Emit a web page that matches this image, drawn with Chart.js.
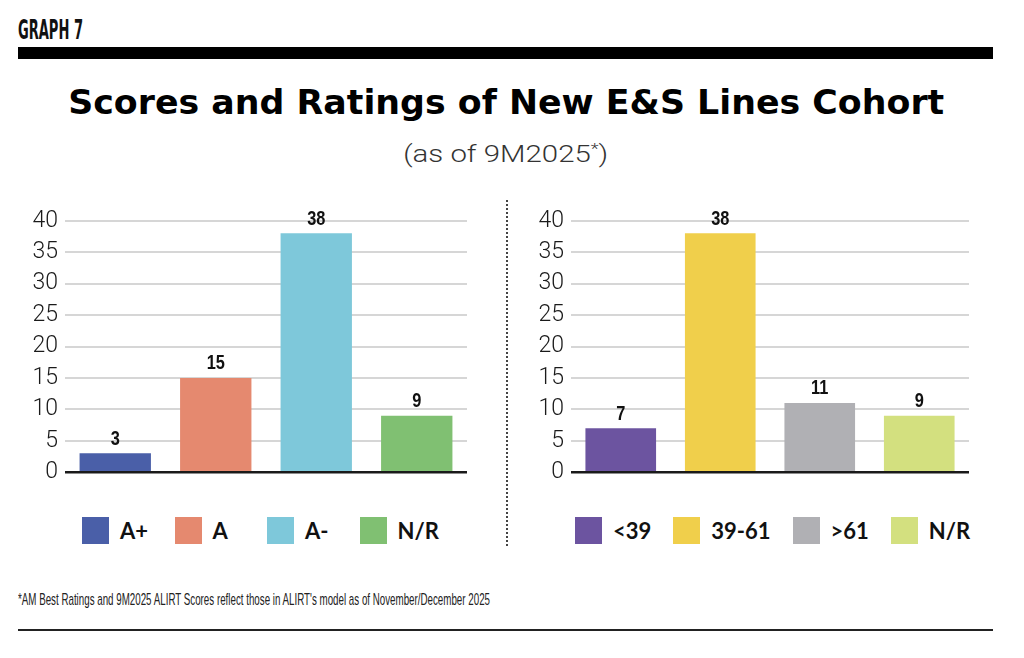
<!DOCTYPE html>
<html>
<head>
<meta charset="utf-8">
<script src="https://cdn.jsdelivr.net/npm/chart.js@4.4.1/dist/chart.umd.min.js"></script>
<style>
    body { margin: 0; background: #fff; width: 1024px; height: 658px; position: relative; overflow: hidden; }
    .abs { position: absolute; }
    .fit { display: inline-block; white-space: nowrap; line-height: 1; }
    #graphNo { left: 18px; top: 17px; font-family: "DejaVu Sans Condensed", sans-serif; font-weight: bold; font-size: 26px; color: #111; transform-origin: left top; }
    #topBar { left: 18px; top: 47px; width: 975px; height: 12px; background: #000; }
    #title { left: 0; width: 1012px; top: 85px; text-align: center; }
    #title .fit { font-family: "DejaVu Sans", sans-serif; font-weight: bold; font-size: 34px; color: #000; }
    #subtitle { left: 0; width: 1012px; top: 142px; text-align: center; }
    #subtitle .fit { font-family: "Roboto", sans-serif; font-weight: 300; font-size: 24px; color: #333; }
    #subtitle sup { font-size: 15px; vertical-align: 8px; line-height: 0; }
    #divider { left: 506px; top: 200px; height: 346px; border-left: 2px dotted #444; }
    .legend { top: 516px; height: 28px; display: flex; align-items: center; font-family: "Lato", sans-serif; font-weight: bold; font-size: 22px; color: #111; }
    .legend .item { display: flex; align-items: center; }
    .legend .box { width: 27px; height: 27px; margin-right: 11px; }
    #footnote { left: 18px; top: 591px; font-family: "Liberation Sans", sans-serif; font-size: 17px; color: #222; transform-origin: left top; }
    #bottomLine { left: 18px; top: 629px; width: 975px; height: 2px; background: #222; }
</style>
</head>
<body>
<div id="graphNo" class="abs fit">GRAPH 7</div>
<div id="topBar" class="abs"></div>
<div id="title" class="abs"><span class="fit">Scores and Ratings of New E&amp;S Lines Cohort</span></div>
<div id="subtitle" class="abs"><span class="fit">(as of 9M2025<sup>*</sup>)</span></div>

<div class="abs" style="left:20px; top:200px; width:455px; height:293px;"><canvas id="chartRatings"></canvas></div>
<div id="divider" class="abs"></div>
<div class="abs" style="left:526px; top:200px; width:451px; height:293px;"><canvas id="chartScores"></canvas></div>

<div id="legendRatings" class="abs legend" style="left:82px;"></div>
<div id="legendScores" class="abs legend" style="left:575px;"></div>

<div id="footnote" class="abs fit">*AM Best Ratings and 9M2025 ALIRT Scores reflect those in ALIRT's model as of November/December 2025</div>
<div id="bottomLine" class="abs"></div>

<script>
// left chart - AM Best ratings
const ratingLabels = ['A+', 'A', 'A-', 'N/R'];
const ratingValues = [3, 15, 38, 9];
const ratingColors = ['#4a5fa8', '#e5896f', '#7ec8da', '#80c072'];

// right chart - ALIRT scores
const scoreLabels = ['<39', '39-61', '>61', 'N/R'];
const scoreValues = [7, 38, 11, 9];
const scoreColors = ['#6c54a0', '#f0cf4b', '#b0b0b4', '#d3e07f'];

const yTicks = [0, 5, 10, 15, 20, 25, 30, 35, 40];

// squeeze text horizontally so it takes the width it has in the original
function fitWidth(el, target) {
    const w = el.getBoundingClientRect().width;
    el.style.transform = 'scaleX(' + (target / w) + ')';
}
fitWidth(document.querySelector('#graphNo'), 65);
fitWidth(document.querySelector('#title .fit'), 876);
fitWidth(document.querySelector('#subtitle .fit'), 205);
fitWidth(document.querySelector('#footnote'), 472);

// numbers above the bars (condensed bold)
const valueLabels = {
    id: 'valueLabels',
    afterDatasetsDraw(chart) {
        const ctx = chart.ctx;
        const meta = chart.getDatasetMeta(0);
        meta.data.forEach((bar, i) => {
            ctx.save();
            ctx.translate(bar.x, bar.y - 4);
            ctx.scale(0.78, 1);
            ctx.font = 'bold 21px "Liberation Sans", sans-serif';
            ctx.fillStyle = '#111';
            ctx.textAlign = 'center';
            ctx.textBaseline = 'bottom';
            ctx.fillText(chart.data.datasets[0].data[i], 0, 0);
            ctx.restore();
        });
    }
};

function createChart(canvasId, labels, values, colors) {
    const ctx = document.getElementById(canvasId).getContext('2d');
    return new Chart(ctx, {
        type: 'bar',
        data: {
            labels: labels,
            datasets: [{
                data: values,
                backgroundColor: colors,
                borderWidth: 0,
                barPercentage: 0.71,
                categoryPercentage: 1.0
            }]
        },
        options: {
            responsive: true,
            maintainAspectRatio: false,
            animation: false,
            layout: { padding: { top: 0, right: 8, bottom: 0, left: 0 } },
            plugins: {
                legend: { display: false },
                tooltip: { enabled: false }
            },
            scales: {
                x: { display: false },
                y: {
                    min: 0,
                    max: 40,
                    afterFit: function (scale) { scale.width = 45; },
                    afterBuildTicks: function (scale) { scale.ticks = yTicks.map(v => ({ value: v })); },
                    border: { display: false },
                    grid: {
                        drawTicks: false,
                        color: c => c.tick.value === 0 ? '#1a1a1a' : '#d6d6d6',
                        lineWidth: c => c.tick.value === 0 ? 2.5 : 2
                    },
                    ticks: {
                        autoSkip: false,
                        padding: 7,
                        color: '#1a1a1a',
                        font: { family: 'Roboto', size: 23, weight: '300' }
                    }
                }
            }
        },
        plugins: [valueLabels]
    });
}

function buildLegend(elId, labels, colors, itemWidth, gap) {
    const el = document.getElementById(elId);
    labels.forEach((lab, i) => {
        const item = document.createElement('div');
        item.className = 'item';
        if (itemWidth) item.style.width = itemWidth + 'px';
        else item.style.marginRight = gap + 'px';
        const box = document.createElement('span');
        box.className = 'box';
        box.style.background = colors[i];
        const txt = document.createElement('span');
        txt.textContent = lab;
        item.appendChild(box);
        item.appendChild(txt);
        el.appendChild(item);
    });
}

createChart('chartRatings', ratingLabels, ratingValues, ratingColors);
createChart('chartScores', scoreLabels, scoreValues, scoreColors);
buildLegend('legendRatings', ratingLabels, ratingColors, 92.5, 0);
buildLegend('legendScores', scoreLabels, scoreColors, 0, 22);
</script>
</body>
</html>
